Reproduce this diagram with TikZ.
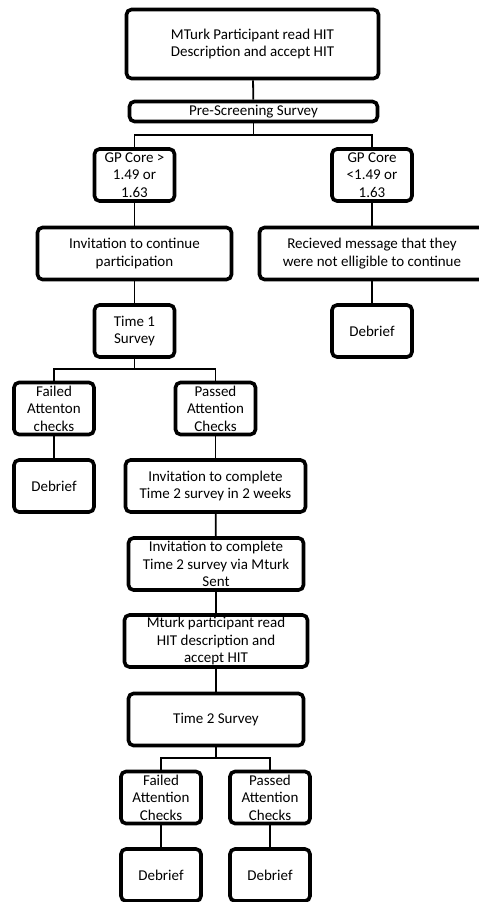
\documentclass[tikz,border=0pt]{standalone}
\usepackage{fontspec}
\setmainfont{Carlito}
\usepackage{tikz}
\usetikzlibrary{positioning,calc}
\definecolor{ink}{HTML}{000000}

\begin{document}
\begin{tikzpicture}[
  x=1pt,y=-1pt,
  font=\fontsize{15}{17.5}\selectfont,
  stage/.style={draw=ink,line width=3.6pt,rounded corners=5pt,fill=white,
    align=center,inner sep=1pt,minimum height=52pt,text=ink},
  narrow/.style={stage,minimum width=80pt},
  link/.style={draw=ink,line width=1.8pt}
]
  \useasboundingbox (0,0) rectangle (479,902);

  % screening
  \node[stage,minimum width=252pt,minimum height=69pt] (hit) at (252.5,44)
    {MTurk Participant read HIT\\Description and accept HIT};
  \node[stage,minimum width=248pt,minimum height=20pt] (pre) at (253.5,111.5)
    {Pre-Screening Survey};
  \node[narrow] (gplow) at (134.5,175) {GP Core >\\1.49 or\\1.63};
  \node[narrow] (gphigh) at (372,175) {GP Core\\<1.49 or\\1.63};
  \node[stage,minimum width=194pt] (invite) at (134.5,253.5)
    {Invitation to continue\\participation};
  \node[stage,minimum width=225pt] (reject) at (372,253.5)
    {Recieved message that they\\were not elligible to continue};
  \node[narrow] (timeone) at (134.5,331) {Time 1\\Survey};
  \node[narrow] (debriefA) at (372,331) {Debrief};

  % time 1
  \node[narrow] (failone) at (54,408.5) {Failed\\Attenton\\checks};
  \node[narrow] (passone) at (215.5,408.5) {Passed\\Attention\\Checks};
  \node[narrow] (debriefB) at (54,486) {Debrief};
  \node[stage,minimum width=180pt] (invtwo) at (215.5,486)
    {Invitation to complete\\Time 2 survey in 2 weeks};
  \node[stage,minimum width=175pt] (sent) at (216,564)
    {Invitation to complete\\Time 2 survey via Mturk\\Sent};
  \node[stage,minimum width=183pt] (hittwo) at (216,641)
    {Mturk participant read\\HIT description and\\accept HIT};
  \node[stage,minimum width=175pt] (timetwo) at (216,719.5) {Time 2 Survey};

  % time 2
  \node[narrow] (failtwo) at (161,797.5) {Failed\\Attention\\Checks};
  \node[narrow] (passtwo) at (270,797.5) {Passed\\Attention\\Checks};
  \node[narrow] (debriefC) at (161,875) {Debrief};
  \node[narrow] (debriefD) at (270,875) {Debrief};

  \coordinate (splitA) at (253.5,135);
  \coordinate (splitB) at (134.5,369);
  \coordinate (splitC) at (216,758);

  \draw[link] (hit) -- (pre);
  \draw[link] (pre) -- (splitA);
  \draw[link] (splitA) -| (gplow);
  \draw[link] (splitA) -| (gphigh);
  \draw[link] (gplow) -- (invite);
  \draw[link] (gphigh) -- (reject);
  \draw[link] (invite) -- (timeone);
  \draw[link] (reject) -- (debriefA);
  \draw[link] (timeone) -- (splitB);
  \draw[link] (splitB) -| (failone);
  \draw[link] (splitB) -| (passone);
  \draw[link] (failone) -- (debriefB);
  \draw[link] (passone) -- (invtwo);
  \draw[link] (invtwo) -- (sent);
  \draw[link] (sent) -- (hittwo);
  \draw[link] (hittwo) -- (timetwo);
  \draw[link] (timetwo) -- (splitC);
  \draw[link] (splitC) -| (failtwo);
  \draw[link] (splitC) -| (passtwo);
  \draw[link] (failtwo) -- (debriefC);
  \draw[link] (passtwo) -- (debriefD);
\end{tikzpicture}
\end{document}
